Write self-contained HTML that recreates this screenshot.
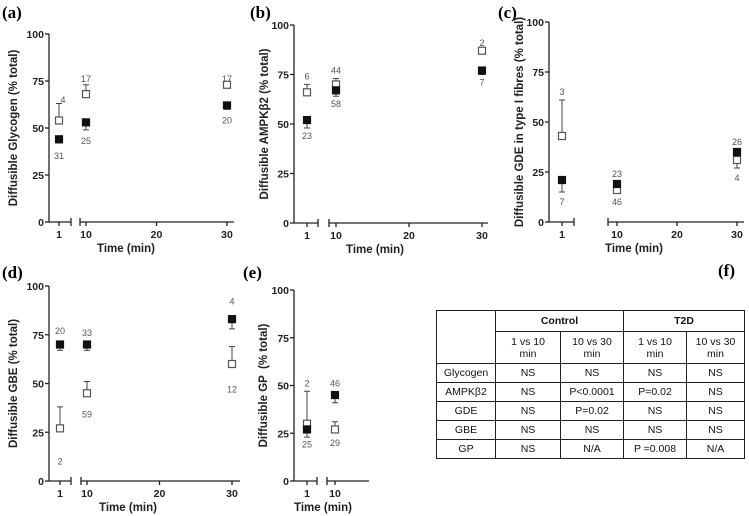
<!DOCTYPE html>
<html><head><meta charset="utf-8">
<style>
body{margin:0;background:#fff;width:749px;height:516px;overflow:hidden;font-family:"Liberation Sans",Arial,sans-serif}
svg{position:absolute;left:0;top:0}
table{position:absolute;left:436px;top:310px;width:308px;height:148px;border-collapse:collapse;font-size:10.5px;color:#111;table-layout:fixed}
td{border:1px solid #222;text-align:center;padding:0;line-height:12px}
</style></head><body>
<svg id="chart" width="749" height="516"></svg>
<table>
<colgroup><col style="width:59px"><col style="width:65px"><col style="width:63px"><col style="width:63px"><col style="width:58px"></colgroup>
<tr style="height:21px"><td rowspan="2"></td><td colspan="2" style="font-weight:bold">Control</td><td colspan="2" style="font-weight:bold">T2D</td></tr>
<tr style="height:32px"><td>1 vs 10<br>min</td><td>10 vs 30<br>min</td><td>1 vs 10<br>min</td><td>10 vs 30<br>min</td></tr>
<tr style="height:19px"><td>Glycogen</td><td>NS</td><td>NS</td><td>NS</td><td>NS</td></tr>
<tr style="height:19px"><td>AMPKβ2</td><td>NS</td><td>P&lt;0.0001</td><td>P=0.02</td><td>NS</td></tr>
<tr style="height:19px"><td>GDE</td><td>NS</td><td>P=0.02</td><td>NS</td><td>NS</td></tr>
<tr style="height:19px"><td>GBE</td><td>NS</td><td>NS</td><td>NS</td><td>NS</td></tr>
<tr style="height:19px"><td>GP</td><td>NS</td><td>N/A</td><td>P =0.008</td><td>N/A</td></tr>
</table>
<script>
const times = [1, 10, 30];
const yTicks = [0, 25, 50, 75, 100];
const aOpen = [54, 68, 73], aOpenErr = [63, 73, 73], aOpenN = ["4", "17", "17"], aOpenLy = [65, 76, 76];
const aFill = [44, 53, 62], aFillErr = [42, 49, 60], aFillN = ["31", "25", "20"], aFillLy = [35, 43, 54];
const bOpen = [66, 70, 87], bOpenErr = [70, 73, 87], bOpenN = ["6", "44", "2"], bOpenLy = [74, 77, 91];
const bFill = [52, 67, 77], bFillErr = [48, 64, 75], bFillN = ["23", "58", "7"], bFillLy = [44, 60, 71];
const cOpen = [43, 16, 31], cOpenErr = [61, 16, 27], cOpenN = ["3", "46", "4"], cOpenLy = [65, 10, 22];
const cFill = [21, 19, 35], cFillErr = [15, 19, 35], cFillN = ["7", "23", "26"], cFillLy = [10, 24, 40];
const dOpen = [27, 45, 60], dOpenErr = [38, 51, 69], dOpenN = ["2", "59", "12"], dOpenLy = [10, 34, 47];
const dFill = [70, 70, 83], dFillErr = [67, 67, 78], dFillN = ["20", "33", "4"], dFillLy = [77, 76, 92];
const eTimes = [1, 10];
const eOpen = [30, 27], eOpenErr = [47, 31], eOpenN = ["2", "29"], eOpenLy = [51, 20];
const eFill = [27, 45], eFillErr = [23, 41], eFillN = ["25", "46"], eFillLy = [19, 51];

const svg = document.getElementById('chart');
const NS = 'http://www.w3.org/2000/svg';
function mk(tag, attrs, parent){const e=document.createElementNS(NS,tag);for(const k in attrs)e.setAttribute(k,attrs[k]);(parent||svg).appendChild(e);return e;}
function txt(x,y,s,attrs,parent){const t=mk('text',Object.assign({x:x,y:y},attrs),parent);t.textContent=s;return t;}

function panel(cfg){
  const g=mk('g',{});
  
  
  const yS=v=>cfg.y0+(cfg.y100-cfg.y0)*v/100;
  const xS=t=>t===1?cfg.x1:cfg.x10+(t-10)*cfg.k;
  const L=txt(cfg.lx,cfg.ly,'('+cfg.id+')',{'font-family':'Liberation Serif, serif','font-weight':'bold','font-size':'17'},g);
  
  
  const ax=mk('line',{x1:cfg.ax,y1:cfg.y100,x2:cfg.ax,y2:cfg.y0,stroke:'#222','stroke-width':1.3},g);
  
  
  yTicks.forEach(v=>{
    mk('line',{x1:cfg.ax-4,y1:yS(v),x2:cfg.ax,y2:yS(v),stroke:'#222','stroke-width':1.3},g);
    const t=txt(cfg.ax-5,yS(v)+4,String(v),{'text-anchor':'end','font-size':'10.5','font-weight':'bold',fill:'#222'},g);
    
    
  });
  const xa=mk('path',{d:`M${cfg.ax},${cfg.y0}H${cfg.s1}M${cfg.s1},${cfg.y0-4}V${cfg.y0+4}M${cfg.s2},${cfg.y0-4}V${cfg.y0+4}M${cfg.s2},${cfg.y0}H${cfg.xe}`,stroke:'#222','stroke-width':1.3,fill:'none'},g);
  
  
  cfg.xt.forEach(t=>{
    mk('line',{x1:xS(t),y1:cfg.y0,x2:xS(t),y2:cfg.y0+4,stroke:'#222','stroke-width':1.3},g);
    const l=txt(xS(t),cfg.y0+16,String(t),{'text-anchor':'middle','font-size':'10.5','font-weight':'bold',fill:'#222'},g);
    
    
  });
  const xt=txt(cfg.xtx,cfg.y0+30,'Time (min)',{'text-anchor':'middle','font-size':'11.5','font-weight':'bold',fill:'#222'},g);
  
  
  const yt=txt(0,0,cfg.ytitle,{'text-anchor':'middle','font-size':'11.5','font-weight':'bold',fill:'#222',transform:`translate(${cfg.ytx},${(cfg.y0+cfg.y100)/2}) rotate(-90)`},g);
  
  
  yt.style.whiteSpace='pre';
  cfg.series.forEach(s=>{
    s.vals.forEach((v,i)=>{
      const x=xS(s.t[i]), y=yS(v), ye=yS(s.err[i]);
      mk('path',{d:`M${x},${y}V${ye}M${x-3},${ye}H${x+3}`,stroke:'#444','stroke-width':1},g);
      const r=mk('rect',{x:x-3.5,y:y-3.5,width:7,height:7,fill:s.open?'#fff':'#111',stroke:s.open?'#555':'#111','stroke-width':1.2},g);
      
      
      const dx=(s.dx&&s.dx[i])||0;
      const n=txt(x+dx,yS(s.ly[i])+3,s.n[i],{'text-anchor':'middle','font-size':'9','fill':'#555'},g);
      
      
    });
  });
}
panel({id:'a',lx:2,ly:18,ax:49,y0:222,y100:34,x1:59,x10:86,k:7.05,s1:71,s2:80,xe:234,xt:[1,10,20,30],xtx:126,ytx:17,ytitle:'Diffusible Glycogen (% total)',
  series:[{t:times,vals:aOpen,err:aOpenErr,n:aOpenN,ly:aOpenLy,open:true,dx:[4,0,0]},{t:times,vals:aFill,err:aFillErr,n:aFillN,ly:aFillLy}]});
panel({id:'b',lx:250,ly:18,ax:294,y0:223,y100:25,x1:307,x10:336,k:7.3,s1:318,s2:329,xe:488,xt:[1,10,20,30],xtx:375,ytx:268,ytitle:'Diffusible AMPKβ2 (% total)',
  series:[{t:times,vals:bOpen,err:bOpenErr,n:bOpenN,ly:bOpenLy,open:true},{t:times,vals:bFill,err:bFillErr,n:bFillN,ly:bFillLy}]});
panel({id:'c',lx:498,ly:18,ax:549,y0:222,y100:22,x1:562,x10:617,k:6.0,s1:574,s2:608,xe:744,xt:[1,10,20,30],xtx:634,ytx:523,ytitle:'Diffusible GDE in type I fibres (% total)',
  series:[{t:times,vals:cOpen,err:cOpenErr,n:cOpenN,ly:cOpenLy,open:true},{t:times,vals:cFill,err:cFillErr,n:cFillN,ly:cFillLy}]});
panel({id:'d',lx:2,ly:278,ax:49,y0:481,y100:286,x1:60,x10:87,k:7.25,s1:71,s2:81,xe:240,xt:[1,10,20,30],xtx:128,ytx:17,ytitle:'Diffusible GBE (% total)',
  series:[{t:times,vals:dOpen,err:dOpenErr,n:dOpenN,ly:dOpenLy,open:true},{t:times,vals:dFill,err:dFillErr,n:dFillN,ly:dFillLy}]});
panel({id:'e',lx:243,ly:278,ax:294,y0:481,y100:290,x1:307,x10:335,k:7,s1:317,s2:327,xe:369,xt:[1,10],xtx:323,ytx:267,ytitle:'Diffusible GP  (% total)',
  series:[{t:eTimes,vals:eOpen,err:eOpenErr,n:eOpenN,ly:eOpenLy,open:true},{t:eTimes,vals:eFill,err:eFillErr,n:eFillN,ly:eFillLy}]});
const f=txt(718,276,'(f)',{'font-family':'Liberation Serif, serif','font-weight':'bold','font-size':'17'});


</script>
</body></html>
